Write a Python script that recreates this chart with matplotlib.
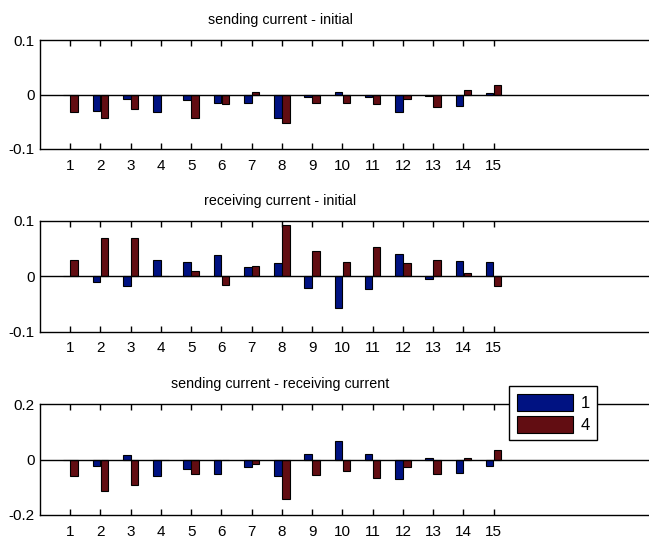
import matplotlib
matplotlib.use("Agg")
import matplotlib.pyplot as plt
import numpy as np

plt.rcParams['font.family'] = ['Liberation Sans', 'DejaVu Sans']

categories = list(range(1, 16))
series_names = ["1", "4"]

send_init_1 = [0.0, -0.030, -0.009, -0.033, -0.011, -0.015, -0.015, -0.043, -0.005, 0.004, -0.005, -0.033, -0.003, -0.021, 0.003]
send_init_4 = [-0.033, -0.043, -0.026, 0.0, -0.043, -0.018, 0.004, -0.053, -0.016, -0.016, -0.018, -0.009, -0.023, 0.008, 0.018]

recv_init_1 = [0.0, -0.011, -0.018, 0.030, 0.026, 0.038, 0.016, 0.023, -0.021, -0.058, -0.023, 0.040, -0.005, 0.028, 0.026]
recv_init_4 = [0.030, 0.068, 0.068, 0.0, 0.010, -0.016, 0.018, 0.093, 0.046, 0.026, 0.053, 0.023, 0.030, 0.005, -0.018]

send_recv_1 = [0.0, -0.022, 0.015, -0.061, -0.033, -0.053, -0.028, -0.061, 0.021, 0.067, 0.021, -0.072, 0.006, -0.048, -0.022]
send_recv_4 = [-0.061, -0.114, -0.093, 0.0, -0.053, 0.0, -0.016, -0.143, -0.057, -0.041, -0.067, -0.028, -0.053, 0.006, 0.035]

titles = ["sending current - initial", "receiving current - initial", "sending current - receiving current"]
ylims = [(-0.1, 0.1), (-0.1, 0.1), (-0.2, 0.2)]
yticklabels = [["-0.1", "0", "0.1"], ["-0.1", "0", "0.1"], ["-0.2", "0", "0.2"]]
data = [(send_init_1, send_init_4), (recv_init_1, recv_init_4), (send_recv_1, send_recv_4)]

blue = '#001282'
red = '#620D12'

W, H = 649, 540
fig = plt.figure(figsize=(W / 100, H / 100), dpi=100)

# axes pixel geometry (top, bottom)
boxes = [(40, 149), (220.7, 331.7), (404, 515)]
left_px = 40
right_px = 665
px_per_unit = 30.24
xmax = (right_px - left_px) / px_per_unit

x = np.array(categories, dtype=float)
bw = 0.25
off = 0.13
handles = None
for i, ((top, bot), title, yl, ytl, (s1, s4)) in enumerate(zip(boxes, titles, ylims, yticklabels, data)):
    ax = fig.add_axes([left_px / W, (H - bot) / H, (right_px - left_px) / W, (bot - top) / H])
    b1 = ax.bar(x - off, s1, width=bw, color=blue, edgecolor='black', linewidth=0.8, label=series_names[0])
    b4 = ax.bar(x + off, s4, width=bw, color=red, edgecolor='black', linewidth=0.8, label=series_names[1])
    handles = (b1, b4)
    ax.axhline(0, color='black', lw=1.0, zorder=3)
    ax.set_xlim(0, xmax)
    ax.set_ylim(*yl)
    ax.set_xticks(categories)
    ax.set_xticklabels([str(c) for c in categories], fontsize=11)
    ax.set_yticks([yl[0], 0, yl[1]])
    ax.set_yticklabels(ytl, fontsize=11)
    ax.tick_params(axis='x', direction='in', length=4, width=1, top=True, bottom=True, pad=7, colors='black')
    ax.tick_params(axis='y', direction='in', length=0, pad=4)
    for s in ax.spines.values():
        s.set_linewidth(1.0)
    fig.text(280 / W, 1 - (top - 20) / H, title, ha='center', va='center', fontsize=10.3)

leg = fig.legend(handles, series_names, loc='upper left',
                 bbox_to_anchor=(509 / W, 1 - 386 / H), bbox_transform=fig.transFigure,
                 fontsize=12, handlelength=3.4, handleheight=1.2, handletextpad=0.45,
                 labelspacing=0.3, borderpad=0.45, borderaxespad=0, fancybox=False,
                 framealpha=1, edgecolor='black')
leg.get_frame().set_linewidth(1.0)
leg.set_zorder(10)

fig.savefig("out.png", dpi=100)
